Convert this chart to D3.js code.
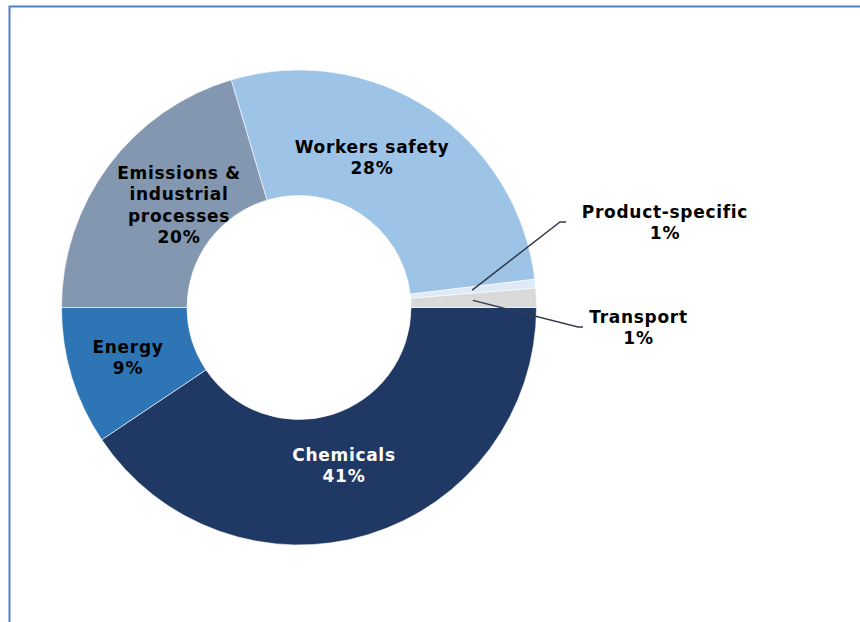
<!DOCTYPE html>
<html><head><meta charset="utf-8">
<script src="https://cdn.jsdelivr.net/npm/d3@7/dist/d3.min.js"></script>
<style>
html,body{margin:0;padding:0;background:#fff;}
svg{display:block;}
text{font-family:"DejaVu Sans",Verdana,sans-serif;font-weight:bold;}
</style></head>
<body>
<svg id="chart" width="860" height="622"></svg>
<script>
// Data
const categories = ["Chemicals","Energy","Emissions & industrial processes","Workers safety","Product-specific","Transport"];
const values = [40.6, 9.4, 20.4, 27.7, 0.6, 1.3];
const percentLabels = ["41%","9%","20%","28%","1%","1%"];

// Layout / style
const colors = ["#203864","#2e75b6","#8497b0","#9dc3e6","#deebf7","#d9d9d9"];
const textColors = ["#ffffff","#000000","#000000","#000000","#000000","#000000"];
const labelLines = [["Chemicals"],["Energy"],["Emissions &","industrial","processes"],["Workers safety"],["Product-specific"],["Transport"]];
const labelCenters = [[344,455],[128,347],[179,173],[372,147],[665,212],[638.5,317]];
const cx = 299, cy = 307.5, rOuter = 237.5, rInner = 112, lineH = 21.3;

const svg = d3.select("#chart");

// frame
svg.append("rect").attr("x",9.5).attr("y",6.5).attr("width",900).attr("height",700)
  .attr("fill","none").attr("stroke","#4f7fc6").attr("stroke-width",2);

const pie = d3.pie().sort(null).value(d=>d).startAngle(Math.PI/2).endAngle(Math.PI/2 + 2*Math.PI);
const arcs = pie(values);
const arc = d3.arc().innerRadius(rInner).outerRadius(rOuter);

const g = svg.append("g").attr("transform",`translate(${cx},${cy})`);
g.selectAll("path").data(arcs).enter().append("path")
  .attr("d",arc).attr("fill",(d,i)=>colors[i]).attr("stroke","#fff").attr("stroke-width",0.6);

// leader lines for small slices
const leaderArc = d3.arc().innerRadius(rInner+62).outerRadius(rInner+62);
function leader(i, elbow, end){
  const p = leaderArc.centroid(arcs[i]);
  const pts = [[cx+p[0],cy+p[1]], elbow, end];
  svg.append("path").attr("d", d3.line()(pts)).attr("fill","none")
    .attr("stroke","#333d4d").attr("stroke-width",1.5);
}
leader(4, [560,222], [566,222]);
leader(5, [578,327], [583,327]);

// labels
labelLines.forEach((lines,i)=>{
  const all = lines.concat([percentLabels[i]]);
  const [lx,ly] = labelCenters[i];
  const t = svg.append("text").attr("text-anchor","middle").attr("fill",textColors[i])
    .attr("font-size","17px").attr("letter-spacing","0.7px");
  all.forEach((s,k)=>{
    t.append("tspan").attr("x",lx).attr("y",ly + k*lineH).attr("dy","0.36em").text(s);
  });
});
</script>
</body></html>
